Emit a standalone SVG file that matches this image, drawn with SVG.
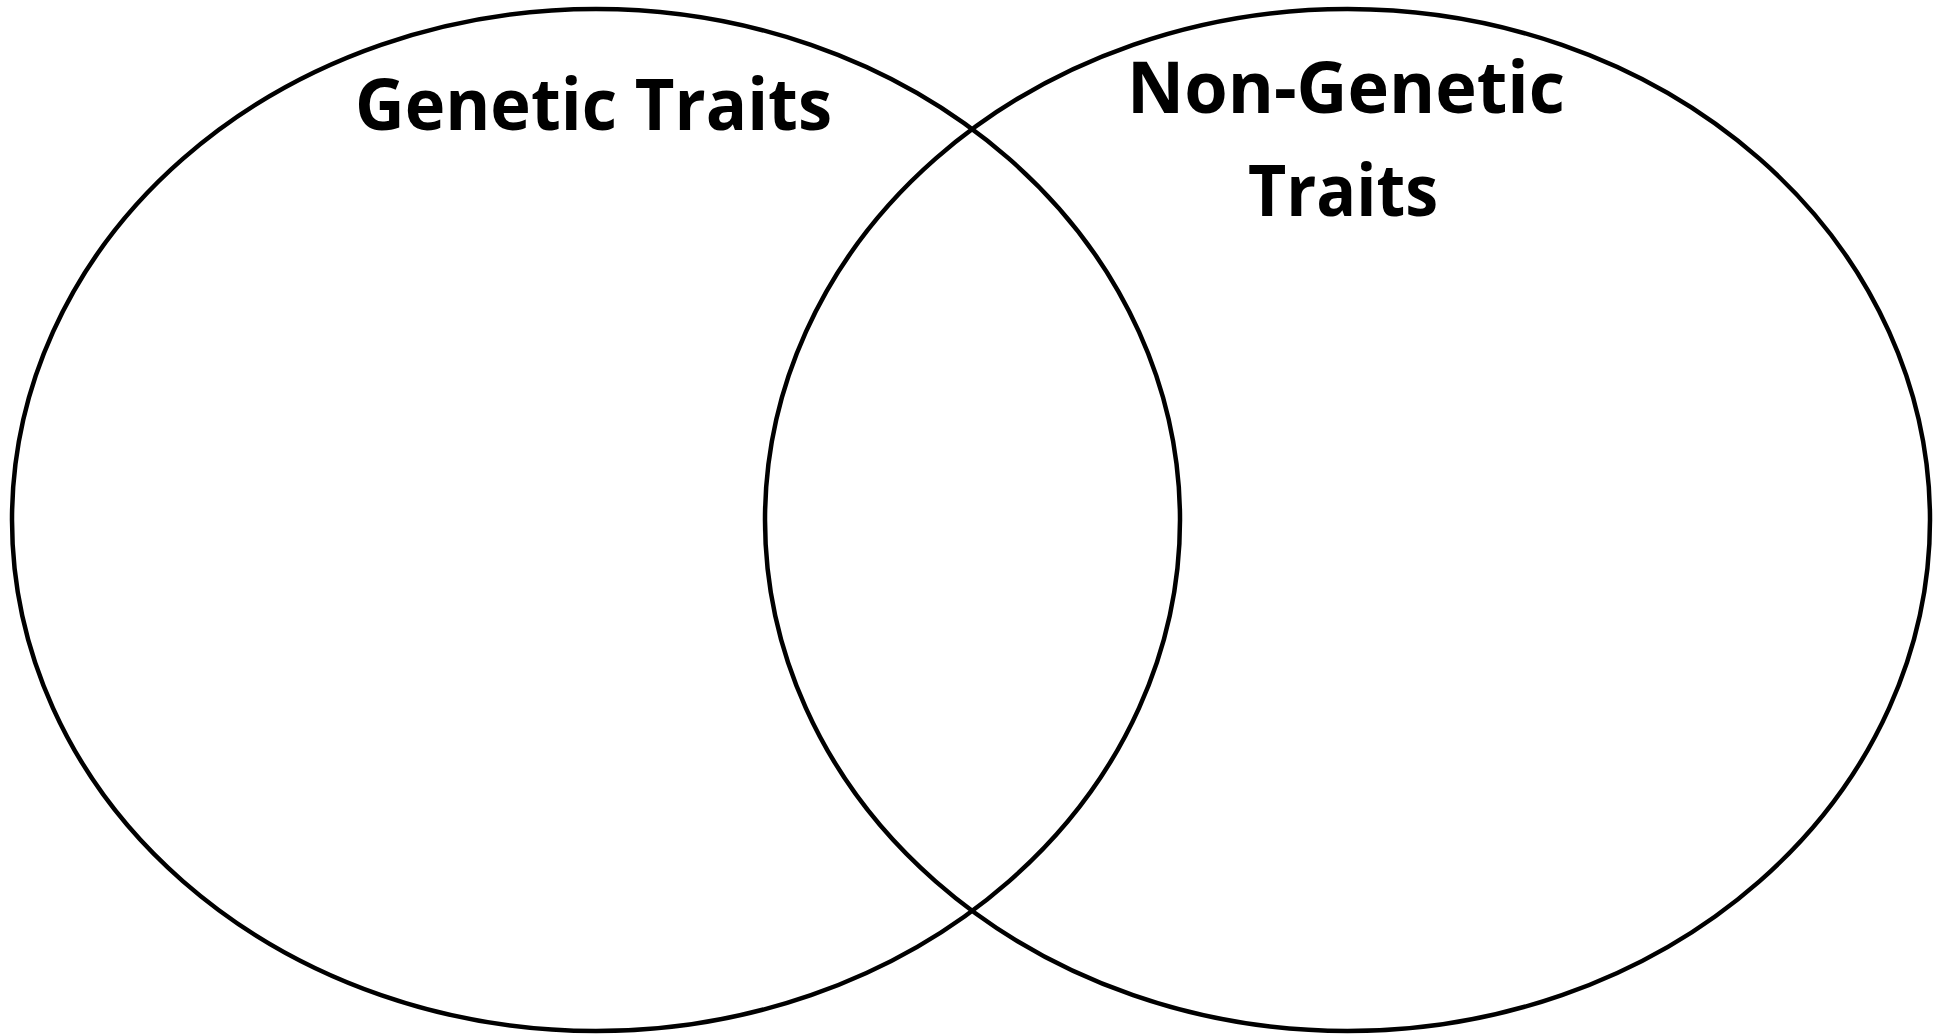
<svg xmlns="http://www.w3.org/2000/svg" width="1944" height="1035" viewBox="0 0 1944 1035">
<style>
.ring{fill:none;stroke:#000;stroke-width:4.5}
.lbl{font-family:"Open Sans",Lato,"Liberation Sans",sans-serif;font-weight:bold;font-size:71px;fill:#000;text-anchor:middle;font-variant-ligatures:none}
</style>
<rect width="1944" height="1035" fill="#fff"/>
<g id="genetic">
<ellipse class="ring" cx="596" cy="520" rx="584" ry="511"/>
<text class="lbl" x="593.5" y="130" textLength="477" lengthAdjust="spacingAndGlyphs">Genetic Traits</text>
</g>
<g id="non-genetic">
<ellipse class="ring" cx="1347.5" cy="520" rx="582.5" ry="511"/>
<text class="lbl" x="1346" y="113" textLength="438" lengthAdjust="spacingAndGlyphs">Non-Genetic</text>
<text class="lbl" x="1343" y="216" textLength="190" lengthAdjust="spacingAndGlyphs">Traits</text>
</g>
<g id="connectors"/>
</svg>
